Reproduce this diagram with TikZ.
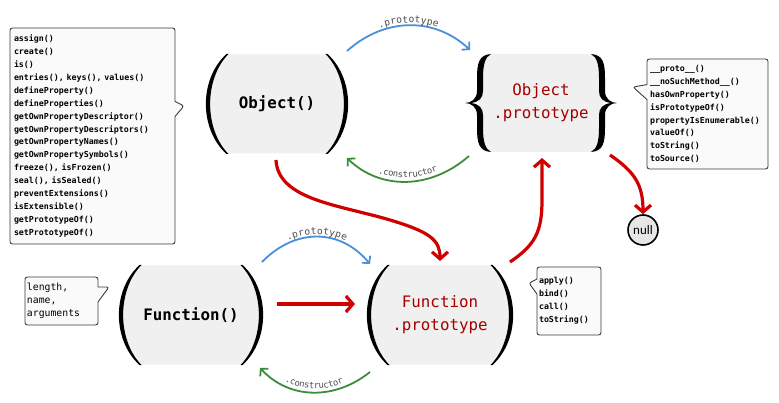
\documentclass[tikz,border=0pt]{standalone}
\usepackage{fontspec}
\setmonofont{DejaVu Sans Mono}
\newfontfamily\carlito{Carlito}
\usetikzlibrary{arrows.meta,shapes.callouts,decorations.text,backgrounds}
\definecolor{nodegray}{RGB}{240,240,240}
\definecolor{boxfill}{RGB}{250,250,250}
\definecolor{boxline}{RGB}{60,60,60}
\definecolor{protoblue}{RGB}{74,144,217}
\definecolor{ctorgreen}{RGB}{60,140,60}
\definecolor{linkred}{RGB}{208,0,0}
\definecolor{textred}{RGB}{165,0,0}
\definecolor{lblgray}{RGB}{75,75,75}
\definecolor{nullgray}{RGB}{230,230,230}
\newcommand\protolbl{\fontsize{9.6}{9.6}\selectfont\ttfamily\color{lblgray}}
\newcommand\ctorlbl{\fontsize{8.8}{8.8}\selectfont\ttfamily\color{lblgray}}
\newcommand\parenpair[2]{%
  \begin{scope}[shift={(#1.center)}]
    \begin{pgfonlayer}{background}
      \fill[nodegray] ({-#2+1.5},49.5) -- ({#2-1.5},49.5)
        .. controls ({#2+23},25) and ({#2+23},-25) .. ({#2-1.5},-49.5)
        -- ({-#2+1.5},-49.5) .. controls ({-#2-23},-25) and ({-#2-23},25) .. cycle;
    \end{pgfonlayer}
    \fill ({-#2-0.5},50) .. controls ({-#2-28},25) and ({-#2-28},-25) .. ({-#2-0.5},-50)
      -- ({-#2+1.5},-50) .. controls ({-#2-23},-25) and ({-#2-23},25) .. ({-#2+1.5},50) -- cycle;
    \fill ({#2+0.5},50) .. controls ({#2+28},25) and ({#2+28},-25) .. ({#2+0.5},-50)
      -- ({#2-1.5},-50) .. controls ({#2+23},-25) and ({#2+23},25) .. ({#2-1.5},50) -- cycle;
  \end{scope}}
\newcommand\bracepath{%
  \fill (-50,49) .. controls (-62,48) and (-64,40) .. (-64,25) -- (-64,12)
    .. controls (-64,4) and (-70,0) .. (-76,0)
    .. controls (-70,0) and (-64,-4) .. (-64,-12) -- (-64,-25)
    .. controls (-64,-40) and (-62,-48) .. (-50,-49)
    .. controls (-56,-46) and (-58,-38) .. (-58,-25) -- (-58,-12)
    .. controls (-58,-5) and (-62,-1) .. (-70,0)
    .. controls (-62,1) and (-58,5) .. (-58,12) -- (-58,25)
    .. controls (-58,38) and (-56,46) .. (-50,49) -- cycle;}
\newcommand\bracepair[1]{%
  \begin{scope}[shift={(#1.center)}]
    \bracepath
    \begin{scope}[xscale=-1]\bracepath\end{scope}
  \end{scope}}
\tikzset{
  core/.style={minimum width=100pt, minimum height=98pt, inner sep=0pt, align=center},
  ctorname/.style={core, font=\fontsize{15.8}{23}\selectfont\ttfamily\bfseries},
  protoname/.style={core, text=textred, font=\fontsize{15.8}{23}\selectfont\ttfamily},
  memo/.style={rectangle callout, draw=boxline, fill=boxfill, line width=0.9pt,
    rounded corners=2.5pt, align=left, inner ysep=0pt, callout pointer width=15pt,
    font=\fontsize{8.3}{12.9}\selectfont\ttfamily\bfseries},
  protolink/.style={draw=protoblue, line width=1.8pt, -{Straight Barb[length=5pt,width=11pt]}},
  ctorlink/.style={draw=ctorgreen, line width=1.8pt, -{Straight Barb[length=5pt,width=11pt]}},
  chainlink/.style={draw=linkred, line width=3.2pt, -{Straight Barb[length=7pt,width=16pt]}},
}
\begin{document}
\begin{tikzpicture}[x=1pt,y=1pt]
\useasboundingbox (0,0) rectangle (779,-403);

% core nodes
\node[ctorname] (obj) at (277,-104) {Object()};
\node[protoname, fill=nodegray, rounded corners=8pt, minimum width=124pt] (op) at (541,-103) {Object\\.prototype};
\node[ctorname, minimum width=98pt] (fn) at (191,-315) {Function()};
\node[protoname, minimum width=104pt] (fp) at (440,-315) {Function\\.prototype};
\parenpair{obj}{50}
\parenpair{fn}{51}
\parenpair{fp}{52}
\bracepair{op}

\node[circle, draw=black, line width=1.6pt, fill=nullgray, minimum size=30pt,
  inner sep=0pt, font=\carlito\fontsize{13}{13}\selectfont] (null) at (643,-230) {null};

% callouts
\node[memo, text width=157pt, inner xsep=4pt, minimum height=216pt,
  callout absolute pointer={(184,-106)}] (objmeth) at (92.5,-136)
  {assign()\\create()\\is()\\entries(), keys(), values()\\defineProperty()\\defineProperties()\\getOwnPropertyDescriptor()\\getOwnPropertyDescriptors()\\getOwnPropertyNames()\\getOwnPropertySymbols()\\freeze(), isFrozen()\\seal(), isSealed()\\preventExtensions()\\isExtensible()\\getPrototypeOf()\\setPrototypeOf()};
\node[memo, text width=115pt, inner xsep=3pt, minimum height=110pt,
  callout absolute pointer={(633,-87)}] (opmeth) at (707.5,-114)
  {\_\_proto\_\_()\\\_\_noSuchMethod\_\_()\\hasOwnProperty()\\isPrototypeOf()\\propertyIsEnumerable()\\valueOf()\\toString()\\toSource()};
\node[memo, text width=60pt, inner xsep=2pt, minimum height=68pt,
  callout absolute pointer={(529,-283)}] (fpmeth) at (569,-301)
  {apply()\\bind()\\call()\\toString()};
\node[memo, text width=69pt, inner xsep=2pt, minimum height=48pt,
  font=\fontsize{9.8}{13}\selectfont\ttfamily,
  callout absolute pointer={(109,-287)}] (fnmeth) at (61.5,-301)
  {length,\\name,\\arguments};

% connector end points
\coordinate (b1s) at (347,-51);  \coordinate (b1e) at (470,-50);
\coordinate (b2s) at (262,-262); \coordinate (b2e) at (370,-264);
\coordinate (g1s) at (469,-156); \coordinate (g1e) at (347,-158);
\coordinate (g2s) at (370,-372); \coordinate (g2e) at (260,-368);
\coordinate (r1s) at (276,-160); \coordinate (r1e) at (440,-261);
\coordinate (r2s) at (277,-304); \coordinate (r2e) at (355,-304);
\coordinate (r3s) at (510,-262); \coordinate (r3e) at (542,-158);
\coordinate (r4s) at (610,-155);

% .prototype links
\draw[protolink] (b1s) .. controls (385,-17) and (435,-17) .. (b1e);
\path[decorate, decoration={text along path, text align=center, raise=2.5pt,
  text={|\protolbl|.prototype}}] (b1s) .. controls (385,-17) and (435,-17) .. (b1e);
\draw[protolink] (b2s) .. controls (295,-228) and (340,-228) .. (b2e);
\path[decorate, decoration={text along path, text align=center, raise=2.5pt,
  text={|\protolbl|.prototype}}] (b2s) .. controls (295,-228) and (340,-228) .. (b2e);

% .constructor links
\draw[ctorlink] (g1s) .. controls (430,-190) and (380,-190) .. (g1e);
\path[decorate, decoration={text along path, text align=center, raise=4pt,
  text={|\ctorlbl|.constructor}}] (g1e) .. controls (380,-190) and (430,-190) .. (g1s);
\draw[ctorlink] (g2s) .. controls (335,-400) and (290,-400) .. (g2e);
\path[decorate, decoration={text along path, text align=center, raise=4pt,
  text={|\ctorlbl|.constructor}}] (g2e) .. controls (290,-400) and (335,-400) .. (g2s);

% prototype chain
\draw[chainlink] (r1s) .. controls (278,-200) and (340,-205) .. (390,-220)
  .. controls (430,-232) and (440,-240) .. (r1e);
\draw[chainlink] (r2s) -- (r2e);
\draw[chainlink] (r3s) .. controls (535,-245) and (542,-232) .. (542,-200) -- (r3e);
\draw[chainlink] (r4s) .. controls (635,-172) and (643,-185) .. (null.north);
\end{tikzpicture}
\end{document}
